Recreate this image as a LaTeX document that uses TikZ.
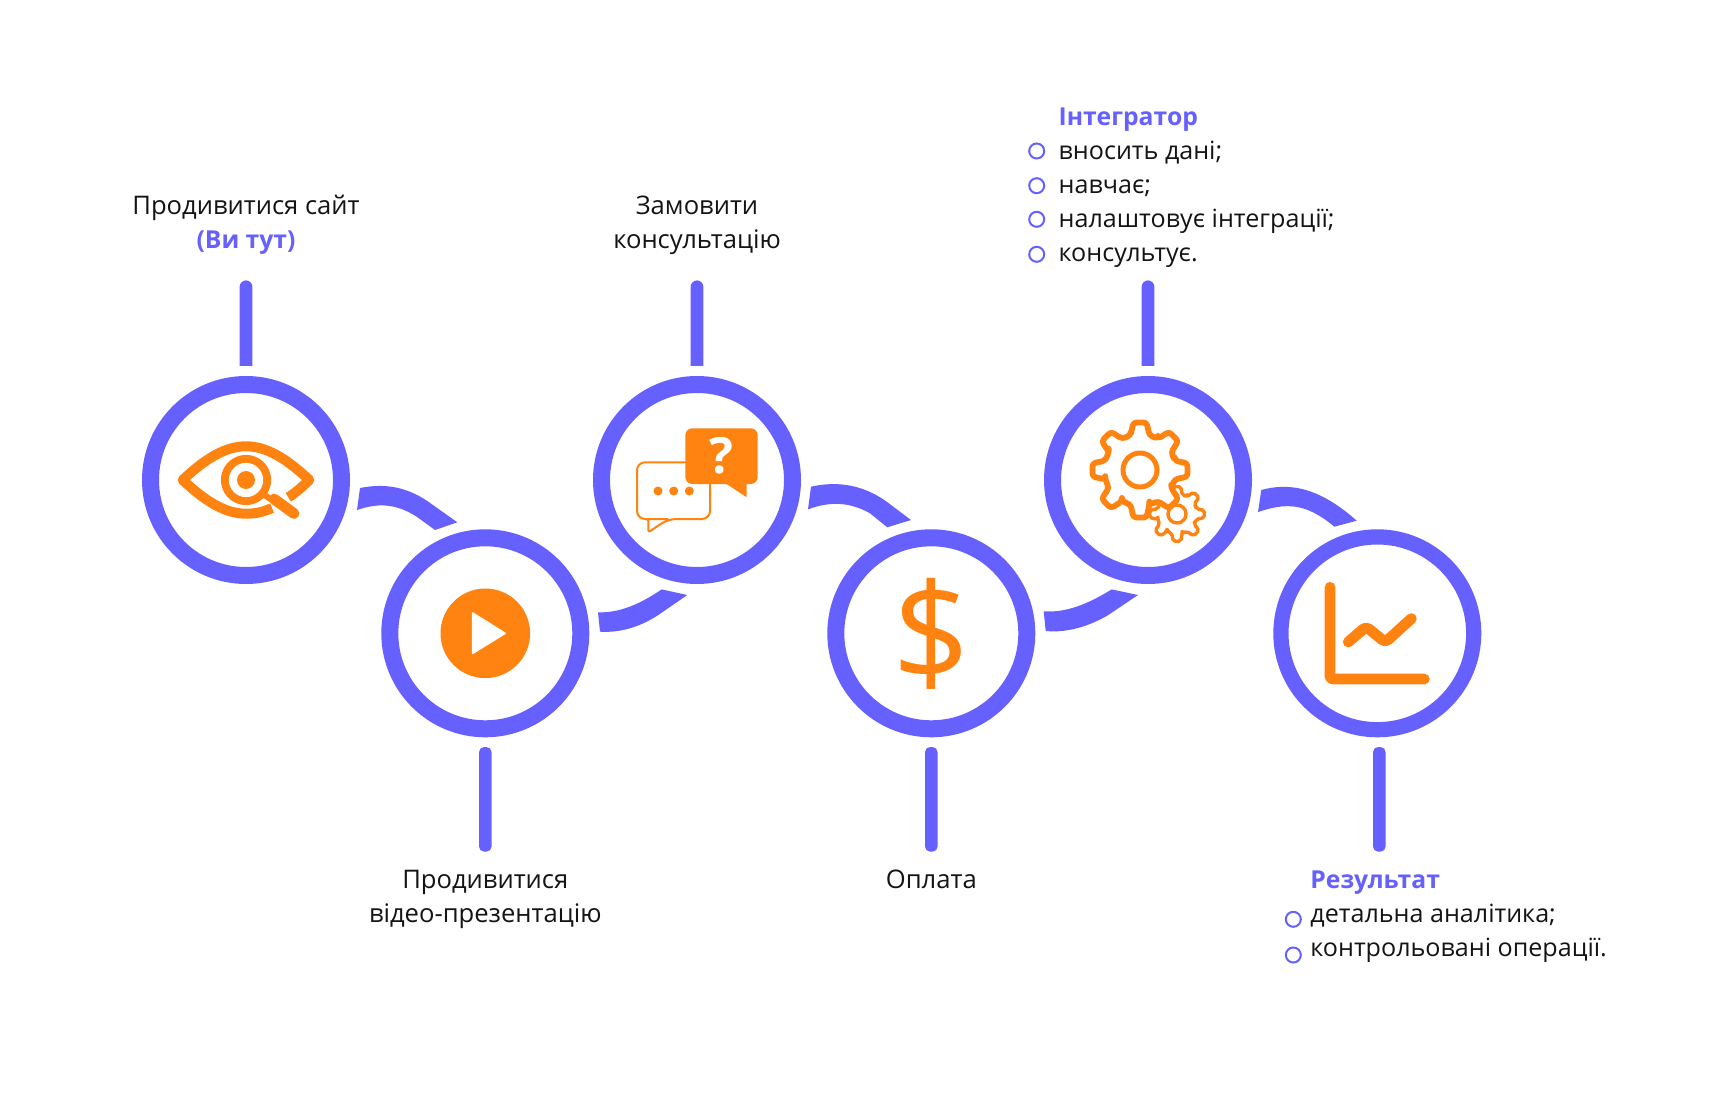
\documentclass[tikz,border=0pt]{standalone}
\usepackage{fontspec}
\setmainfont{Open Sans}
\usetikzlibrary{calc}
\definecolor{acc}{HTML}{6661FE}
\definecolor{org}{HTML}{FF8310}
\definecolor{ink}{HTML}{141414}
\tikzset{
  ring/.style={circle,draw=acc,line width=8.5pt,minimum size=95.5pt,inner sep=0pt,fill=white},
  lbl/.style={font=\fontsize{12.8}{16}\selectfont,text=ink,inner sep=0pt},
  item/.style={font=\fontsize{12.55}{16}\selectfont,text=ink,inner sep=0pt},
  head/.style={font=\fontsize{12.35}{16}\selectfont\bfseries,text=acc,inner sep=0pt},
  bul/.style={circle,draw=acc,line width=1pt,minimum size=7.5pt,inner sep=0pt},
  ic/.style={draw=org,line join=round},
}
% top stem above a ring: round free end, flat end toward the ring
\newcommand\stemtop[1]{%
  \fill[acc] ($(#1)+(-6.3,-114)$) -- ($(#1)+(-6.3,-193.3)$) arc[start angle=180,end angle=360,radius=6.3] -- ($(#1)+(6.3,-114)$) -- cycle;}
\newcommand\stembot[2]{%
  \fill[acc,rounded corners=2.6pt] ($(#1)+(#2-6.3,113.7)$) rectangle ($(#1)+(#2+6.3,218.4)$);}
% gear centred at origin of the current scope
\newcommand\geartooth[3]{%
  (-15:#2) \foreach \a in {0,45,...,315} {
     -- (\a-15:#2) -- (\a-8:#1) -- (\a+8:#1) -- (\a+15:#2) -- (\a+30:#2) } -- cycle}
\begin{document}
\begin{tikzpicture}[x=0.5pt,y=-0.5pt]
\useasboundingbox (0,0) rectangle (1728,1117);
\fill[white] (0,0) rectangle (1728,1117);
% rings
\node[ring] (c1) at (246,480) {};
\node[ring] (c2) at (485.3,633.3) {};
\node[ring] (c3) at (697,480) {};
\node[ring] (c4) at (931.3,633.3) {};
\node[ring] (c5) at (1148,480) {};
\node[ring,line width=7.6pt,minimum size=96.4pt] (c6) at (1377.3,633.3) {};
% stems
\stemtop{c1}\stemtop{c3}\stemtop{c5}
\stembot{c2}{0}\stembot{c4}{0}\stembot{c6}{2}
% links
\fill[acc] ($(c1)+(114,8)$) .. controls (385,483) and (407,487) .. (428.3,501.7) -- ($(c2)+(-28,-111)$) -- ($(c2)+(-50.3,-103.3)$) -- (416.7,516.7) .. controls (395,503) and (378,503) .. ($(c1)+(111,30)$) -- cycle;
\fill[acc] ($(c2)+(112.7,-21)$) .. controls (620,613) and (640,604) .. ($(c3)+(-35.3,109.4)$) -- ($(c3)+(-9.7,115)$) -- (658.3,615) .. controls (640,627) and (620,633) .. ($(c2)+(114.7,-1.6)$) -- cycle;
\fill[acc] ($(c3)+(114,6.7)$) .. controls (836,481) and (862,484) .. (886.7,501.7) -- ($(c4)+(-20.3,-113.3)$) -- ($(c4)+(-44,-106)$) -- (870,513.3) .. controls (850,502) and (830,501) .. ($(c3)+(111,29.4)$) -- cycle;
\fill[acc] ($(c4)+(112.4,-22)$) .. controls (1066,613) and (1088,604) .. ($(c5)+(-36.3,109.4)$) -- ($(c5)+(-10,115)$) -- (1108.3,615) .. controls (1088,627) and (1066,633) .. ($(c4)+(114.4,-2.3)$) -- cycle;
\fill[acc] ($(c5)+(113.3,10)$) .. controls (1290,482) and (1320,488) .. ($(c6)+(-20.6,-112.6)$) -- ($(c6)+(-43,-106.6)$) .. controls (1305,502) and (1285,503) .. ($(c5)+(110,32)$) -- cycle;
% eye icon
\begin{scope}[shift={(c1)}]
\draw[ic,line width=5pt,line cap=butt] (42.3,17.3) .. controls (48,14) and (55,8) .. (63.3,0) .. controls (40,-22) and (20,-33.7) .. (0,-33.7) .. controls (-20,-33.7) and (-40,-22) .. (-63.3,0) .. controls (-40,22) and (-20,33.7) .. (0,33.7) .. controls (10,33.7) and (17,32) .. (26,28);
\draw[ic,line width=3.9pt] (0,0) circle (21.2);
\fill[org] (0,0) circle (9);
\draw[ic,line width=3pt] (17,14) -- (26,20);
\draw[ic,line width=5.4pt,line cap=round] (28,19) -- (48,33.5);
\end{scope}
% play icon
\begin{scope}[shift={(c2)}]
\fill[org] (0,0) circle (44.8);
\fill[white,draw=white,line width=1pt,line join=round] (-12.5,-20) -- (19.5,0) -- (-12.5,19.7) -- cycle;
\end{scope}
% chat icon
\begin{scope}[shift={(c3)}]
\draw[ic,line width=1pt,fill=white] [rounded corners=4pt] (-28.7,39) -- (-60,39) -- (-60,-17.7) -- (13,-17.7) -- (13,39) -- (-28.7,39) [rounded corners=0.8pt] -- (-48.7,52.3) -- (-48.7,39) -- (-50,39);
\foreach \dx in {-39,-23.3,-7.7} \fill[org] (\dx,11) circle (4.5);
\fill[org,rounded corners=3.5pt] (-11.7,-51.7) rectangle (60.7,4);
\fill[org] (29.7,3) -- (29.7,4) -- (49.7,17.3) -- (49.7,3) -- cycle;
\node[font=\fontsize{25}{25}\selectfont\bfseries,text=white,inner sep=0pt] (qm) at (24.7,-24) {?};
\end{scope}
% dollar icon
\node[font=\fontsize{68}{68}\selectfont,text=org,inner sep=0pt] (dollar) at ($(c4)+(0,1)$) {\$};
% gears icon
\begin{scope}[shift={($(c5)+(29,34)$)}]
\draw[ic,line width=1.7pt,fill=white,rounded corners=1pt] \geartooth{27.5}{20}{};
\draw[ic,line width=1.7pt] (0,0) circle (9);
\end{scope}
\begin{scope}[shift={($(c5)+(-8,-10)$)}]
\draw[ic,line width=2.9pt,fill=white,rounded corners=1.6pt] \geartooth{48}{36}{};
\draw[ic,line width=2.5pt] (0,0) circle (17);
\end{scope}
% chart icon
\begin{scope}[shift={(c6)}]
\draw[ic,line width=5.4pt,line cap=round,rounded corners=1.5pt] (-47.3,-46) -- (-47.3,45.7) -- (47,45.7);
\draw[ic,line width=5.4pt,line cap=round,rounded corners=2pt] (-29,8.7) -- (-11.3,-6.7) -- (8,9) -- (34,-14.7);
\end{scope}
% labels
\node[lbl,anchor=base] (t1a) at (246,215) {Продивитися сайт};
\node[head,anchor=base] (t1b) at (246,249) {(Ви тут)};
\node[lbl,anchor=base] (t3a) at (697,215) {Замовити};
\node[lbl,anchor=base] (t3b) at (697,249) {консультацію};
\node[lbl,anchor=base] (t2a) at (485.3,888) {Продивитися};
\node[lbl,anchor=base] (t2b) at (485.3,922) {відео-презентацію};
\node[lbl,anchor=base] (t4a) at (931.3,888) {Оплата};
% integrator list
\node[head,anchor=base west] (h5) at (1058.3,125.3) {Інтегратор};
\node[item,anchor=base west] (l51) at (1058.3,159.3) {вносить дані;};
\node[item,anchor=base west] (l52) at (1058.3,194) {навчає;};
\node[item,anchor=base west] (l53) at (1058.3,227.7) {налаштовує інтеграції;};
\node[item,anchor=base west] (l54) at (1058.3,262) {консультує.};
\node[bul] (b51) at (1036.7,151) {};
\node[bul] (b52) at (1036.7,185.7) {};
\node[bul] (b53) at (1036.7,219.3) {};
\node[bul] (b54) at (1036.7,254.3) {};
% result list
\node[head,anchor=base west] (h6) at (1310,888) {Результат};
\node[item,anchor=base west] (l61) at (1310,922.7) {детальна аналітика;};
\node[item,anchor=base west] (l62) at (1310,956) {контрольовані операції.};
\node[bul] (b61) at (1293.3,919.3) {};
\node[bul] (b62) at (1293.3,955) {};
\end{tikzpicture}
\end{document}
